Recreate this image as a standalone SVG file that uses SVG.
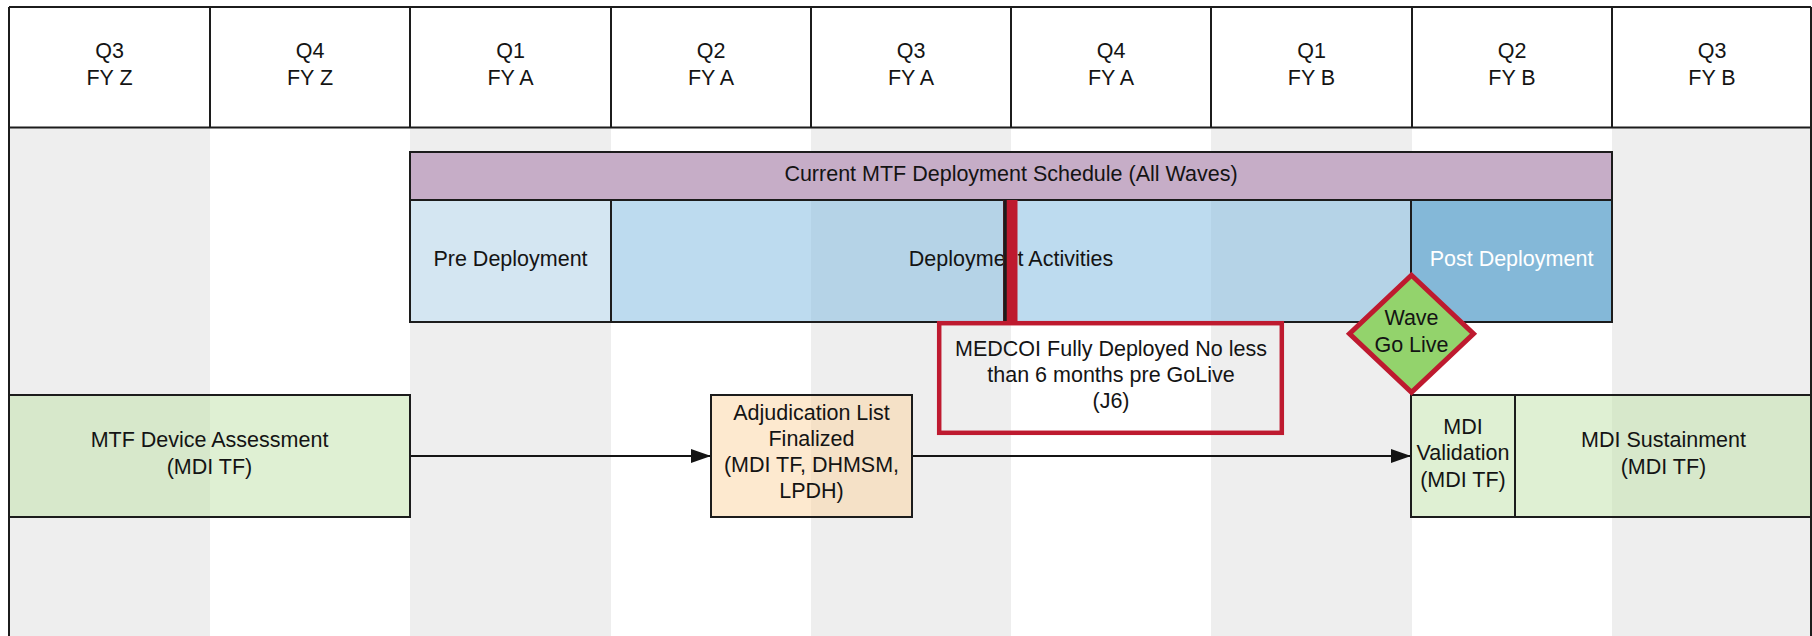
<svg xmlns="http://www.w3.org/2000/svg" width="1812" height="636" viewBox="0 0 1812 636">
  <style>
    text { font-family: "Liberation Sans", Arial, sans-serif; font-size: 21.5px; fill: #141414; text-anchor: middle; }
    .grid { stroke: #1c1c1c; stroke-width: 2; fill: none; }
    .box { stroke: #1c1c1c; stroke-width: 2; }
    .stripe { fill: #eeeeee; }
    .green { fill: rgb(191,225,167); fill-opacity: 0.5; }
    .peach { fill: rgb(251,211,159); fill-opacity: 0.5; }
    .blue { fill: rgb(123,183,223); fill-opacity: 0.5; }
    .conn { stroke: #141414; stroke-width: 2; fill: none; }
    .milestone { stroke: #be1a2f; stroke-width: 4.5; fill: none; }
  </style>
  <defs>
    <marker id="arrow" markerWidth="20" markerHeight="14" refX="20" refY="7" orient="auto" markerUnits="userSpaceOnUse">
      <path d="M0,0 L20,7 L0,14 Z" fill="#141414"/>
    </marker>
  </defs>

  <!-- background -->
  <rect x="0" y="0" width="1812" height="636" fill="#ffffff"/>
  <g id="stripes">
    <rect class="stripe" x="9" y="127" width="201" height="509"/>
    <rect class="stripe" x="410" y="127" width="201" height="509"/>
    <rect class="stripe" x="811" y="127" width="200" height="509"/>
    <rect class="stripe" x="1211" y="127" width="201" height="509"/>
    <rect class="stripe" x="1612" y="127" width="200" height="509"/>
  </g>

  <!-- quarter header -->
  <g id="header">
    <rect x="0" y="7" width="1812" height="120.5" fill="#ffffff"/>
    <path class="grid" d="M9,7 H1811 M9,127.5 H1811 M9,7 V636 M1811,7 V636 M210,7 V127.5 M410,7 V127.5 M611,7 V127.5 M811,7 V127.5 M1011,7 V127.5 M1211,7 V127.5 M1412,7 V127.5 M1612,7 V127.5"/>
    <text x="109.5" y="58">Q3</text><text x="109.5" y="84.5">FY Z</text>
    <text x="310" y="58">Q4</text><text x="310" y="84.5">FY Z</text>
    <text x="510.5" y="58">Q1</text><text x="510.5" y="84.5">FY A</text>
    <text x="711" y="58">Q2</text><text x="711" y="84.5">FY A</text>
    <text x="911" y="58">Q3</text><text x="911" y="84.5">FY A</text>
    <text x="1111" y="58">Q4</text><text x="1111" y="84.5">FY A</text>
    <text x="1311.5" y="58">Q1</text><text x="1311.5" y="84.5">FY B</text>
    <text x="1512" y="58">Q2</text><text x="1512" y="84.5">FY B</text>
    <text x="1712" y="58">Q3</text><text x="1712" y="84.5">FY B</text>
  </g>

  <g id="schedule">
    <rect class="box" x="410" y="152" width="1202" height="48" fill="#c6adc7"/>
    <text x="1011" y="181">Current MTF Deployment Schedule (All Waves)</text>
  </g>

  <g id="deployment-activities">
    <rect class="box blue" x="611" y="200" width="800" height="122"/>
    <text x="1011" y="266">Deployment Activities</text>
  </g>

  <g id="pre-deployment">
    <rect class="box" x="410" y="200" width="201" height="122" fill="#d4e6f2"/>
    <text x="510.5" y="266">Pre Deployment</text>
  </g>

  <g id="post-deployment">
    <rect class="box" x="1411" y="200" width="201" height="122" fill="#84b8d8"/>
    <text x="1511.5" y="266" style="fill:#ffffff">Post Deployment</text>
  </g>

  <g id="medcoi-marker">
    <rect x="1003" y="200" width="14.5" height="122" fill="#be1a2f"/>
    <line x1="1005" y1="200" x2="1005" y2="322" stroke="#1c1c1c" stroke-width="3.5"/>
  </g>

  <g id="medcoi">
    <rect class="milestone" x="939.2" y="323.2" width="342.6" height="109.6"/>
    <text x="1111" y="356">MEDCOI Fully Deployed No less</text>
    <text x="1111" y="382">than 6 months pre GoLive</text>
    <text x="1111" y="408">(J6)</text>
  </g>

  <g id="connectors">
    <line class="conn" x1="410" y1="456" x2="711" y2="456" marker-end="url(#arrow)"/>
    <line class="conn" x1="912" y1="456" x2="1411" y2="456" marker-end="url(#arrow)"/>
  </g>

  <g id="device-assessment">
    <rect class="box green" x="9" y="395" width="401" height="122"/>
    <text x="209.5" y="447">MTF Device Assessment</text>
    <text x="209.5" y="474">(MDI TF)</text>
  </g>

  <g id="adjudication">
    <rect class="box peach" x="711" y="395" width="201" height="122"/>
    <text x="811.5" y="420">Adjudication List</text>
    <text x="811.5" y="446">Finalized</text>
    <text x="811.5" y="472">(MDI TF, DHMSM,</text>
    <text x="811.5" y="498">LPDH)</text>
  </g>

  <g id="mdi-validation">
    <rect class="box green" x="1411" y="395" width="104" height="122"/>
    <text x="1463" y="434">MDI</text>
    <text x="1463" y="460">Validation</text>
    <text x="1463" y="487">(MDI TF)</text>
  </g>

  <g id="mdi-sustainment">
    <rect class="box green" x="1515" y="395" width="296" height="122"/>
    <text x="1663.5" y="447">MDI Sustainment</text>
    <text x="1663.5" y="474">(MDI TF)</text>
  </g>

  <g id="wave-go-live">
    <path d="M1411.5,275.2 L1473.5,333.7 L1411.5,392.2 L1349.5,333.7 Z" fill="#93d36c" stroke="#be1a2f" stroke-width="5"/>
    <text x="1411.5" y="325">Wave</text>
    <text x="1411.5" y="351.5">Go Live</text>
  </g>
</svg>
